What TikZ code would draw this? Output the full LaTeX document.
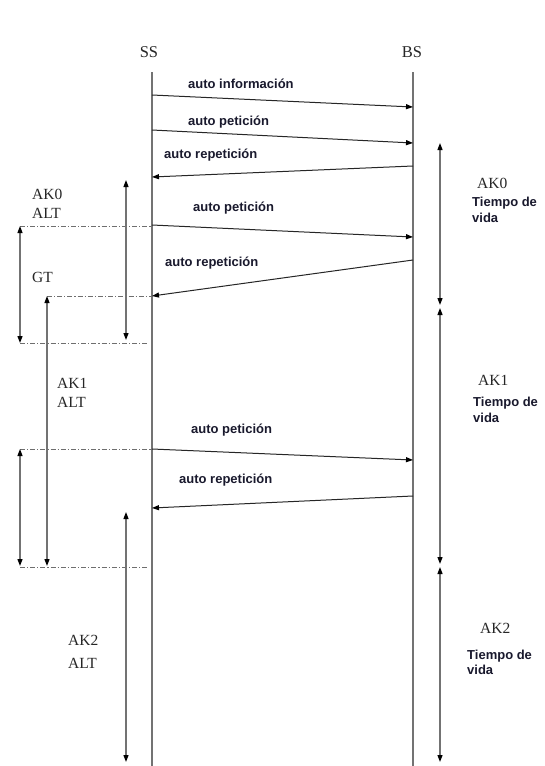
\documentclass[tikz,border=0pt]{standalone}
\usepackage{fontspec}
\setmainfont{Liberation Serif}
\newfontfamily\labfont{Liberation Sans}
\usetikzlibrary{arrows.meta}
\definecolor{lineg}{RGB}{115,115,115}
\definecolor{dashg}{RGB}{110,110,110}
\definecolor{txt}{RGB}{25,25,45}
\tikzset{
  life/.style={draw=lineg, line width=1.4pt},
  msg/.style={draw=black!85, line width=1pt, -{Triangle[length=7pt,width=5pt,color=black]}},
  spanboth/.style={draw=lineg, line width=1.2pt, {Triangle[length=7pt,width=5pt,color=black]}-{Triangle[length=7pt,width=5pt,color=black]}},
  dashdot/.style={draw=dashg, line width=1pt, dash pattern=on 5pt off 2pt on 1.2pt off 2pt},
  serif/.style={inner sep=0pt, anchor=base west, font=\fontsize{15.5}{17}\selectfont, text=black!85},
  head/.style={inner sep=0pt, anchor=base, font=\fontsize{16.5}{18}\selectfont, text=black!85},
  lab/.style={inner sep=0pt, anchor=base west, font=\labfont\bfseries\fontsize{13}{15}\selectfont, text=txt},
  tlab/.style={inner sep=0pt, anchor=base west, font=\labfont\bfseries\fontsize{13}{15}\selectfont, text=txt}
}
\begin{document}
\begin{tikzpicture}[x=1pt,y=-1pt]
\useasboundingbox[fill=white] (0,0) rectangle (545,766);

% headers
\node[head] (ss) at (149,57.5) {SS};
\node[head] (bs) at (412,57.5) {BS};

% lifelines
\coordinate (sstop) at (152,72);
\coordinate (ssbot) at (152,766);
\coordinate (bstop) at (413,72);
\coordinate (bsbot) at (413,766);
\draw[life] (sstop) -- (ssbot);
\draw[life] (bstop) -- (bsbot);

% message endpoints
\coordinate (m1s) at (152,95);  \coordinate (m1e) at (413,107);
\coordinate (m2s) at (152,130); \coordinate (m2e) at (413,143);
\coordinate (m3s) at (413,166); \coordinate (m3e) at (152,177);
\coordinate (m4s) at (152,225); \coordinate (m4e) at (413,237);
\coordinate (m5s) at (413,260); \coordinate (m5e) at (152,296);
\coordinate (m6s) at (152,449); \coordinate (m6e) at (413,460);
\coordinate (m7s) at (413,496); \coordinate (m7e) at (152,508);
\draw[msg] (m1s) -- (m1e);
\draw[msg] (m2s) -- (m2e);
\draw[msg] (m3s) -- (m3e);
\draw[msg] (m4s) -- (m4e);
\draw[msg] (m5s) -- (m5e);
\draw[msg] (m6s) -- (m6e);
\draw[msg] (m7s) -- (m7e);

% message labels
\node[lab] (l1) at (188,88) {auto información};
\node[lab] (l2) at (188,125) {auto petición};
\node[lab] (l3) at (164,158) {auto repetición};
\node[lab] (l4) at (193,211) {auto petición};
\node[lab] (l5) at (165,266) {auto repetición};
\node[lab] (l6) at (191,433) {auto petición};
\node[lab] (l7) at (179,483) {auto repetición};

% dash-dot guide lines
\coordinate (d1a) at (20,226); \coordinate (d1b) at (152,226);
\coordinate (d2a) at (47,296); \coordinate (d2b) at (152,296);
\coordinate (d3a) at (20,343); \coordinate (d3b) at (148,343);
\coordinate (d4a) at (20,449); \coordinate (d4b) at (152,449);
\coordinate (d5a) at (20,567); \coordinate (d5b) at (148,567);
\draw[dashdot] (d1a) -- (d1b);
\draw[dashdot] (d2a) -- (d2b);
\draw[dashdot] (d3a) -- (d3b);
\draw[dashdot] (d4a) -- (d4b);
\draw[dashdot] (d5a) -- (d5b);

% left spans
\coordinate (a1t) at (20,226); \coordinate (a1b) at (20,343);
\coordinate (a2t) at (20,449); \coordinate (a2b) at (20,566);
\coordinate (g1t) at (47,296); \coordinate (g1b) at (47,566);
\coordinate (k0t) at (126,180); \coordinate (k0b) at (126,340);
\coordinate (k2t) at (126,512); \coordinate (k2b) at (126,762);
\draw[spanboth] (a1t) -- (a1b);
\draw[spanboth] (a2t) -- (a2b);
\draw[spanboth] (g1t) -- (g1b);
\draw[spanboth] (k0t) -- (k0b);
\draw[spanboth] (k2t) -- (k2b);

% right spans
\coordinate (r0t) at (440,143); \coordinate (r0b) at (440,305);
\coordinate (r1t) at (440,308); \coordinate (r1b) at (440,564);
\coordinate (r2t) at (440,567); \coordinate (r2b) at (440,762);
\draw[spanboth] (r0t) -- (r0b);
\draw[spanboth] (r1t) -- (r1b);
\draw[spanboth] (r2t) -- (r2b);

% left labels
\node[serif] (ak0) at (32,199) {AK0};
\node[serif] (alt0) at (32,218) {ALT};
\node[serif] (gt) at (32,282) {GT};
\node[serif] (ak1) at (57,388) {AK1};
\node[serif] (alt1) at (57,407) {ALT};
\node[serif] (ak2) at (68,645) {AK2};
\node[serif] (alt2) at (68,668) {ALT};

% right labels
\node[serif] (rak0) at (477,188) {AK0};
\node[tlab] (tv0) at (472,206) {Tiempo de};
\node[tlab] (vi0) at (472,222) {vida};
\node[serif] (rak1) at (478,385) {AK1};
\node[tlab] (tv1) at (473,406) {Tiempo de};
\node[tlab] (vi1) at (473,422) {vida};
\node[serif] (rak2) at (480,633) {AK2};
\node[tlab] (tv2) at (467,659) {Tiempo de};
\node[tlab] (vi2) at (467,674) {vida};
\end{tikzpicture}
\end{document}
